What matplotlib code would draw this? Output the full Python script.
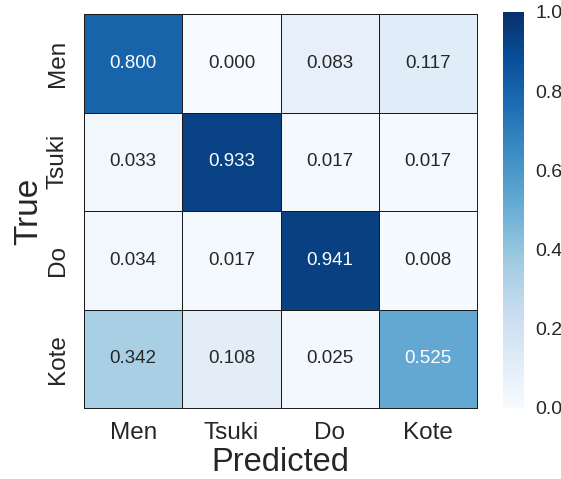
import matplotlib
matplotlib.use("Agg")
import matplotlib.pyplot as plt
import numpy as np
import seaborn as sns

labels = ["Men", "Tsuki", "Do", "Kote"]
row_men = [0.800, 0.000, 0.083, 0.117]
row_tsuki = [0.033, 0.933, 0.017, 0.017]
row_do = [0.034, 0.017, 0.941, 0.008]
row_kote = [0.342, 0.108, 0.025, 0.525]

cm = np.array([row_men, row_tsuki, row_do, row_kote])

sns.set_style("white")
plt.rcParams["font.family"] = ["Liberation Sans", "DejaVu Sans"]
plt.rcParams["text.color"] = "#262626"
plt.rcParams["xtick.color"] = "#262626"
plt.rcParams["ytick.color"] = "#262626"
plt.rcParams["axes.labelcolor"] = "#262626"

fig = plt.figure(figsize=(5.61, 4.79), dpi=100)
ax = fig.add_axes([84 / 561, 1 - 408 / 479, 393 / 561, 394 / 479])
cax = fig.add_axes([503 / 561, 1 - 408 / 479, 21 / 561, 396 / 479])

sns.heatmap(
    cm,
    ax=ax,
    cbar_ax=cax,
    cmap="Blues",
    vmin=0.0,
    vmax=1.0,
    annot=True,
    fmt=".3f",
    annot_kws={"fontsize": 13.5},
    linewidths=0.7,
    linecolor="#1a1a1a",
    xticklabels=labels,
    yticklabels=labels,
)
for spine in ax.spines.values():
    spine.set_visible(True)
    spine.set_color("#1a1a1a")
    spine.set_linewidth(0.7)

ax.tick_params(axis="x", length=0, labelsize=17.5, pad=10)
ax.tick_params(axis="y", length=0, labelsize=17.5, pad=11)
plt.setp(ax.get_yticklabels(), rotation=90, va="center")
ax.set_xlabel("Predicted", fontsize=23.5, labelpad=2)
ax.set_ylabel("True", fontsize=24, labelpad=2)

cax.tick_params(labelsize=14, length=0, pad=8)
cax.set_yticks([0.0, 0.2, 0.4, 0.6, 0.8, 1.0])
for spine in cax.spines.values():
    spine.set_visible(False)

fig.savefig("out.png", dpi=100)
